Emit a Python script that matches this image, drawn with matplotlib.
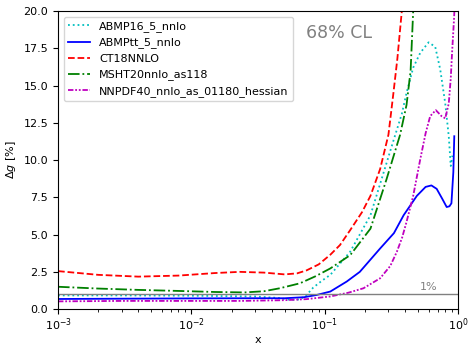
import matplotlib
matplotlib.use("Agg")
import matplotlib.pyplot as plt

ct18_x = [1e-3, 2e-3, 4e-3, 8e-3, 1.5e-2, 2.3e-2, 3.5e-2, 5e-2, 6.2e-2, 7.3e-2, 9e-2, 0.11, 0.13, 0.155, 0.19, 0.22, 0.26, 0.3, 0.327, 0.35, 0.378, 0.4]
ct18_y = [2.55, 2.3, 2.18, 2.25, 2.42, 2.5, 2.45, 2.33, 2.4, 2.6, 3.0, 3.65, 4.3, 5.3, 6.5, 7.6, 9.4, 11.7, 14.5, 16.8, 20.0, 23.0]

msht_x = [1e-3, 2e-3, 4e-3, 8e-3, 1.5e-2, 2.5e-2, 3.5e-2, 4.6e-2, 6.5e-2, 8.5e-2, 0.11, 0.155, 0.22, 0.29, 0.367, 0.41, 0.44, 0.46, 0.48]
msht_y = [1.5, 1.38, 1.29, 1.22, 1.15, 1.12, 1.2, 1.4, 1.73, 2.2, 2.73, 3.62, 5.4, 8.7, 11.7, 13.7, 16.0, 20.0, 23.0]

abmp16_x = [1e-3, 3e-3, 1e-2, 3e-2, 4.5e-2, 5.5e-2, 6.5e-2, 7.3e-2, 8.2e-2, 0.095, 0.11, 0.155, 0.22, 0.327, 0.378, 0.41, 0.46, 0.52, 0.6, 0.673, 0.733, 0.8, 0.85, 0.88, 0.905]
abmp16_y = [0.92, 0.92, 0.9, 0.85, 0.75, 0.62, 0.65, 0.95, 1.45, 1.9, 2.3, 3.85, 6.3, 11.3, 13.1, 14.5, 16.2, 17.2, 17.9, 17.6, 16.1, 13.8, 11.6, 9.6, 10.3]

abmptt_x = [1e-3, 3e-3, 1e-2, 3e-2, 5e-2, 7e-2, 8.7e-2, 0.11, 0.146, 0.183, 0.26, 0.33, 0.39, 0.49, 0.57, 0.63, 0.69, 0.76, 0.82, 0.86, 0.89, 0.92, 0.935]
abmptt_y = [0.68, 0.7, 0.72, 0.73, 0.73, 0.8, 0.95, 1.18, 1.85, 2.5, 4.07, 5.1, 6.3, 7.6, 8.2, 8.3, 8.07, 7.4, 6.85, 6.9, 7.1, 9.2, 11.6]

nnpdf_x = [1e-3, 3e-3, 1e-2, 2.3e-2, 5e-2, 7.3e-2, 0.11, 0.15, 0.195, 0.26, 0.31, 0.347, 0.38, 0.41, 0.46, 0.52, 0.57, 0.617, 0.68, 0.75, 0.8, 0.85, 0.88, 0.9, 0.93, 0.96]
nnpdf_y = [0.52, 0.55, 0.55, 0.55, 0.6, 0.67, 0.85, 1.1, 1.4, 2.07, 2.9, 3.85, 4.8, 5.85, 7.6, 10.07, 11.8, 12.95, 13.35, 12.95, 12.8, 13.8, 15.5, 17.2, 19.4, 22.0]

labels = ["ABMP16_5_nnlo", "ABMPtt_5_nnlo", "CT18NNLO", "MSHT20nnlo_as118", "NNPDF40_nnlo_as_01180_hessian"]

fig = plt.figure(figsize=(4.68, 3.45), dpi=100)
ax = fig.add_axes([0.124, 0.104, 0.855, 0.864])

lw = 1.3
ax.plot(abmp16_x, abmp16_y, color="c", ls=":", lw=lw, label=labels[0])
ax.plot(abmptt_x, abmptt_y, color="b", ls="-", lw=lw, label=labels[1])
ax.plot(ct18_x, ct18_y, color="r", ls="--", lw=lw, label=labels[2])
ax.plot(msht_x, msht_y, color="g", ls="-.", lw=lw, label=labels[3])
ax.plot(nnpdf_x, nnpdf_y, color="m", ls=(0, (3, 1, 1, 1, 1, 1)), lw=lw, label=labels[4])

ax.axhline(1.0, color="gray", lw=1.0)
ax.text(0.6, 1.25, "1%", color="gray", fontsize=8, ha="center")
ax.text(0.62, 0.925, "68% CL", transform=ax.transAxes, color="gray", fontsize=12.5, ha="left", va="center")

ax.set_xscale("log")
ax.set_xlim(1e-3, 1.0)
ax.set_ylim(0, 20)
ax.set_yticks([0, 2.5, 5, 7.5, 10, 12.5, 15, 17.5, 20])
ax.tick_params(labelsize=8)
ax.tick_params(axis="x", pad=2)
ax.set_xlabel("x", fontsize=8, labelpad=1)
ax.set_ylabel(r"$\Delta g$ [%]", fontsize=8)
ax.legend(loc="upper left", fontsize=8)

fig.savefig("out.png", dpi=100)
